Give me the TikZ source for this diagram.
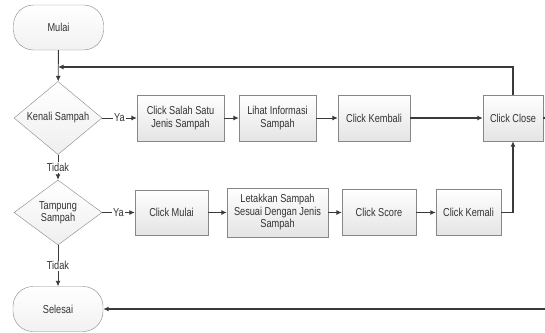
\documentclass[tikz,border=0pt]{standalone}
\usepackage{fontspec}
\setmainfont{Liberation Sans}[FakeStretch=0.8]
\usetikzlibrary{arrows.meta,shapes.geometric,positioning}
\definecolor{flowline}{RGB}{58,58,58}
\definecolor{flowedge}{RGB}{135,135,135}
\definecolor{flowfill}{RGB}{228,228,228}

\begin{document}
\begin{tikzpicture}[>={Latex[length=5.5pt,width=5pt]},x=1pt,y=-1pt,
  every node/.style={font=\fontsize{11.5}{12.5}\selectfont,text=black!80},
  proses/.style={draw=flowedge,top color=white,bottom color=flowfill,
    align=center,minimum height=46pt,inner sep=2pt},
  keputusan/.style={diamond,draw=flowedge,top color=white,bottom color=flowfill!60,
    align=center,inner sep=0pt,minimum width=88pt,minimum height=65pt},
  terminal/.style={draw=flowedge,rounded corners=20pt,top color=white,
    bottom color=flowfill!50,minimum width=90pt,minimum height=45pt},
  ket/.style={fill=white,inner sep=1pt},
  alur/.style={->,draw=flowline,line width=0.9pt},
  alurtebal/.style={alur,line width=1.7pt}]
 \useasboundingbox (0,0) rectangle (545,332);
 % awal dan akhir
 \node[terminal] (mulai) at (58.5,27.5) {Mulai};
 \node[terminal] (selesai) at (58,309) {Selesai};
 % keputusan
 \node[keputusan] (kenali) at (58,118) {Kenali Sampah};
 \node[keputusan] (tampung) at (58,212.5) {Tampung\\Sampah};
 % baris pertama
 \node[proses,minimum width=87pt] (salah) at (180.5,118) {Click Salah Satu\\Jenis Sampah};
 \node[proses,minimum width=77pt] (lihat) at (277.5,118) {Lihat Informasi\\Sampah};
 \node[proses,minimum width=72pt] (kembali) at (374,118) {Click Kembali};
 \node[proses,minimum width=60pt] (close) at (513,118) {Click Close};
 % baris kedua
 \node[proses,minimum width=73pt,minimum height=45pt] (klikmulai) at (171.5,212.5) {Click Mulai};
 \node[proses,minimum width=101pt,minimum height=49pt] (letakkan) at (277.5,212.5)
   {Letakkan Sampah\\Sesuai Dengan Jenis\\Sampah};
 \node[proses,minimum width=74pt] (score) at (379,212.5) {Click Score};
 \node[proses,minimum width=65pt] (kemali) at (468.5,212.5) {Click Kemali};
 \coordinate (balik) at (58,67);

 \draw[alur] (mulai) -- (kenali);
 \draw[alur] (kenali) -- node[ket] {Ya} (salah);
 \draw[alur] (salah) -- (lihat);
 \draw[alur] (lihat) -- (kembali);
 \draw[alurtebal] (kembali) -- (close);
 \draw[alur] (kenali) -- node[ket] {Tidak} (tampung);
 \draw[alur] (tampung) -- node[ket] {Ya} (klikmulai);
 \draw[alur] (klikmulai) -- (letakkan);
 \draw[alur] (letakkan) -- (score);
 \draw[alurtebal] (score) -- (kemali);
 \draw[alurtebal] (kemali.east) -| (close.south);
 \draw[alur] (tampung) -- node[ket] {Tidak} (selesai);
 \draw[alurtebal] (close.north) |- (balik);
 \draw[alurtebal] (close.east) -- ++(8,0) |- (selesai.east);
\end{tikzpicture}
\end{document}
